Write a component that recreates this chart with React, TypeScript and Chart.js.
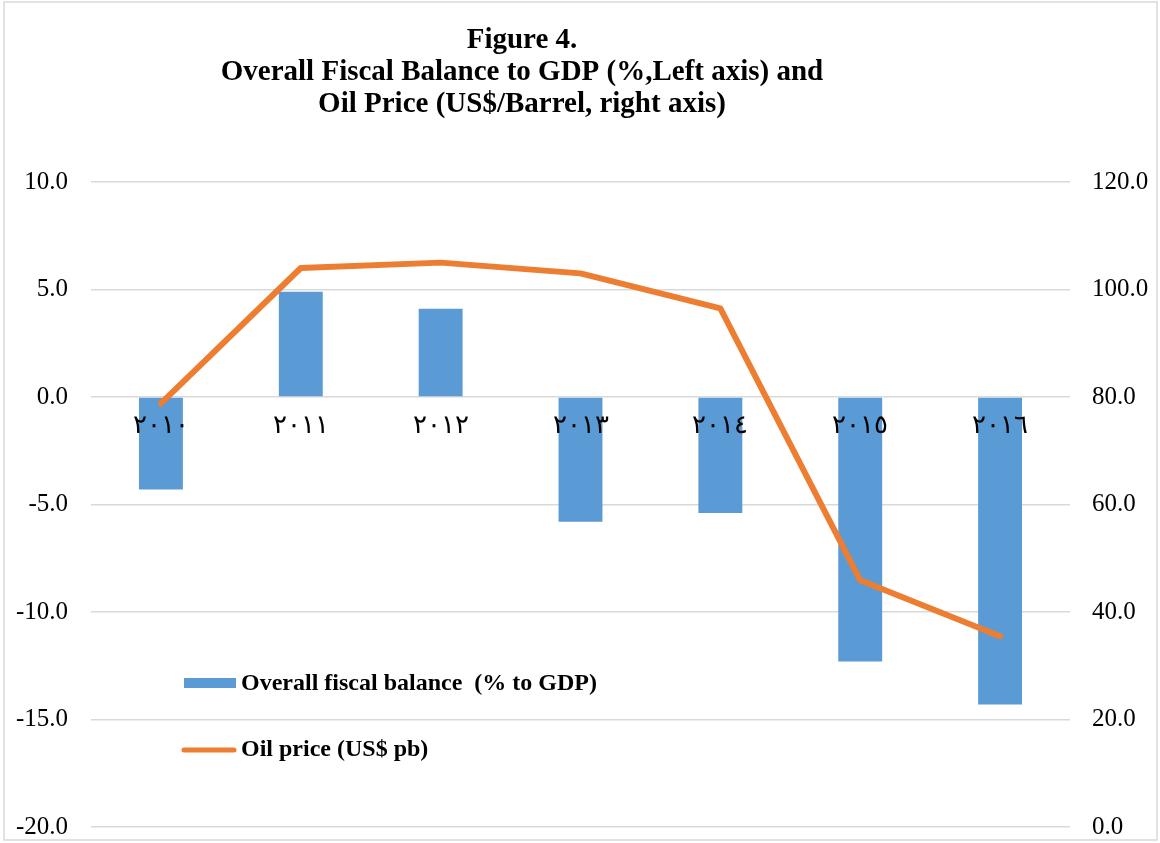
import React, { useEffect, useRef } from "react";
import { Chart, registerables } from "chart.js";

Chart.register(...registerables);

const categories = ["٢٠١٠", "٢٠١١", "٢٠١٢", "٢٠١٣", "٢٠١٤", "٢٠١٥", "٢٠١٦"];
const fiscalBalance = [-4.3, 4.9, 4.1, -5.8, -5.4, -12.3, -14.3];
const oilPrice = [78.8, 104.0, 105.0, 103.0, 96.5, 45.9, 35.5];
const titleLines = [
  "Figure 4.",
  "Overall Fiscal Balance to GDP (%,Left axis) and",
  "Oil Price (US$/Barrel, right axis)",
];
const seriesLabels = ["Overall fiscal balance  (% to GDP)", "Oil price (US$ pb)"];

const BLUE = "#5B9BD5";
const ORANGE = "#ED7D31";
const GRID = "#d9d9d9";
const SERIF = "'Liberation Serif', 'Times New Roman', serif";

const decorPlugin = {
  id: "decor",
  afterDraw(chart: any) {
    const ctx = chart.ctx as CanvasRenderingContext2D;
    ctx.save();
    // outer border
    ctx.strokeStyle = GRID;
    ctx.lineWidth = 1.5;
    ctx.strokeRect(4, 2, 1153, 838);
    // title
    ctx.fillStyle = "#000";
    ctx.textAlign = "center";
    ctx.textBaseline = "middle";
    ctx.font = `bold 29px ${SERIF}`;
    titleLines.forEach((t, i) => ctx.fillText(t, 522, 41 + i * 32));
    // legend
    const ds = chart.data.datasets;
    const barDs = ds.find((d: any) => d.type === "bar");
    const lineDs = ds.find((d: any) => d.type === "line");
    ctx.textAlign = "left";
    ctx.font = `bold 24px ${SERIF}`;
    ctx.fillStyle = barDs.backgroundColor;
    ctx.fillRect(184, 678, 52, 10);
    ctx.fillStyle = "#000";
    ctx.fillText(barDs.label, 241, 684);
    ctx.strokeStyle = lineDs.borderColor;
    ctx.lineWidth = 5;
    ctx.lineCap = "round";
    ctx.beginPath();
    ctx.moveTo(184, 750);
    ctx.lineTo(234, 750);
    ctx.stroke();
    ctx.fillText(lineDs.label, 241, 750);
    ctx.restore();
  },
};

const noPad = (s: any) => {
  s.paddingTop = 0;
  s.paddingBottom = 0;
  s.paddingLeft = 0;
  s.paddingRight = 0;
};

export default function App() {
  const ref = useRef<HTMLCanvasElement>(null);
  useEffect(() => {
    if (!ref.current) return;
    const chart = new Chart(ref.current, {
      type: "bar",
      data: {
        labels: categories,
        datasets: [
          {
            type: "line",
            label: seriesLabels[1],
            data: oilPrice,
            yAxisID: "y1",
            borderColor: ORANGE,
            backgroundColor: ORANGE,
            borderWidth: 6,
            pointRadius: 0,
            tension: 0,
            borderJoinStyle: "round",
            borderCapStyle: "round",
            order: 0,
          } as any,
          {
            type: "bar",
            label: seriesLabels[0],
            data: fiscalBalance,
            yAxisID: "y",
            backgroundColor: BLUE,
            borderWidth: 0,
            barPercentage: 0.314,
            categoryPercentage: 1,
            order: 1,
          },
        ],
      },
      options: {
        animation: false,
        responsive: false,
        maintainAspectRatio: false,
        layout: { padding: { top: 182, bottom: 16, left: 0, right: 0 } },
        plugins: {
          legend: { display: false },
          title: { display: false },
          tooltip: { enabled: false },
        },
        scales: {
          x: {
            position: { y: 0 } as any,
            afterFit: (s: any) => {
              s.height = 0;
              noPad(s);
            },
            grid: { display: false, drawTicks: false },
            border: { display: false },
            ticks: {
              z: 1,
              color: "#000",
              font: { family: SERIF, size: 26 },
              padding: 14,
              maxRotation: 0,
            } as any,
          },
          y: {
            position: "left",
            min: -20,
            max: 10,
            afterFit: (s: any) => {
              s.width = 91;
              noPad(s);
            },
            grid: { color: GRID, lineWidth: 1.5, drawTicks: false },
            border: { display: false },
            ticks: {
              stepSize: 5,
              color: "#000",
              font: { family: SERIF, size: 25 },
              padding: 23,
              callback: (v: any) => Number(v).toFixed(1),
            },
          },
          y1: {
            position: "right",
            min: 0,
            max: 120,
            afterFit: (s: any) => {
              s.width = 90;
              noPad(s);
            },
            grid: { display: false, drawTicks: false },
            border: { display: false },
            ticks: {
              stepSize: 20,
              color: "#000",
              font: { family: SERIF, size: 25 },
              padding: 22,
              callback: (v: any) => Number(v).toFixed(1),
            },
          },
        },
      },
      plugins: [decorPlugin],
    });
    return () => chart.destroy();
  }, []);
  return (
    <div style={{ position: "absolute", left: 0, top: 0, width: 1160, height: 843, background: "#fff" }}>
      <canvas ref={ref} width={1160} height={843} style={{ width: 1160, height: 843 }} />
    </div>
  );
}
